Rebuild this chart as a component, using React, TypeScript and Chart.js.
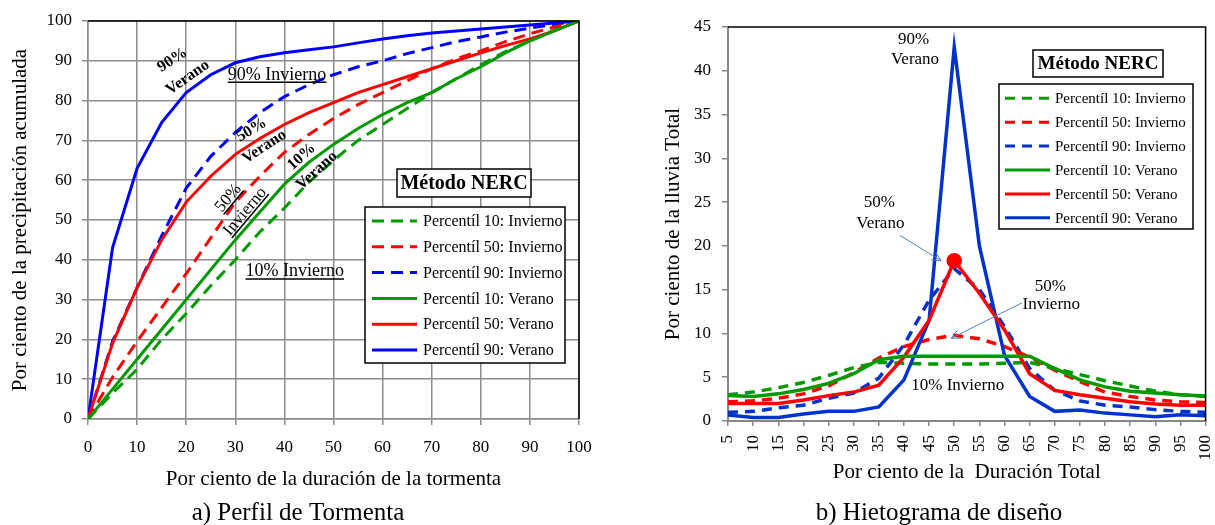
import React, { useEffect, useRef } from "react";
import { Chart, registerables } from "chart.js";

Chart.register(...registerables);

const SERIF = '"Liberation Serif", "Times New Roman", serif';

// ---------- Panel a) Perfil de Tormenta (cumulative) ----------
const profileX = [0, 5, 10, 15, 20, 25, 30, 35, 40, 45, 50, 55, 60, 65, 70, 75, 80, 85, 90, 95, 100];
const profP10Inv = [0, 6.5, 12.5, 20, 26.5, 33.5, 40, 47, 53, 59.5, 65, 70, 74, 78, 82, 85.5, 89, 92.3, 95, 97.7, 100];
const profP50Inv = [0, 10.5, 19.5, 28, 36.5, 45.5, 54.5, 61, 67, 71.5, 75.5, 79, 82, 85, 88, 90.5, 92.5, 94.8, 96.8, 98.5, 100];
const profP90Inv = [0, 19.5, 33, 46, 58, 66, 72, 77, 81, 84, 86.5, 88.5, 90, 91.8, 93.3, 94.8, 96, 97.2, 98.2, 99.2, 100];
const profP10Ver = [0, 7.5, 15, 22.5, 30, 37.5, 45, 52, 59, 64.5, 69, 73, 76.5, 79.5, 82, 85.5, 88.5, 92, 95, 97.5, 100];
const profP50Ver = [0, 19, 33, 45, 54.5, 61, 66.5, 70.5, 74, 77, 79.5, 82, 84, 86, 88, 90, 92, 93.8, 95.5, 97.5, 100];
const profP90Ver = [0, 43, 63, 74.5, 82, 86.5, 89.5, 91, 92, 92.8, 93.5, 94.5, 95.5, 96.3, 97, 97.5, 98, 98.5, 99, 99.5, 100];

// ---------- Panel b) Hietograma de diseño ----------
const hietoX = [5, 10, 15, 20, 25, 30, 35, 40, 45, 50, 55, 60, 65, 70, 75, 80, 85, 90, 95, 100];
const hietP10Inv = [3.0, 3.3, 3.8, 4.4, 5.2, 6.1, 6.7, 6.6, 6.5, 6.5, 6.5, 6.6, 6.7, 6.0, 5.3, 4.6, 4.0, 3.4, 3.0, 2.8];
const hietP50Inv = [2.2, 2.3, 2.6, 3.1, 4.0, 5.5, 7.2, 8.5, 9.3, 9.8, 9.4, 8.5, 7.3, 5.8, 4.5, 3.3, 2.8, 2.4, 2.2, 2.1];
const hietP90Inv = [1.0, 1.1, 1.5, 1.8, 2.6, 3.2, 4.9, 8.7, 13.8, 17.4, 15.0, 10.8, 6.0, 3.5, 2.3, 1.8, 1.6, 1.3, 1.1, 1.0];
const hietP10Ver = [2.9, 2.8, 3.1, 3.6, 4.3, 5.4, 7.0, 7.4, 7.4, 7.4, 7.4, 7.4, 7.4, 6.0, 4.7, 3.9, 3.4, 3.2, 3.0, 2.85];
const hietP50Ver = [2.0, 2.0, 2.0, 2.4, 2.9, 3.3, 4.1, 7.3, 11.5, 18.3, 14.6, 10.4, 5.4, 3.5, 3.0, 2.6, 2.2, 1.95, 1.8, 1.8];
const hietP90Ver = [0.7, 0.4, 0.4, 0.8, 1.1, 1.1, 1.6, 4.7, 11.5, 42.7, 20.0, 7.5, 2.8, 1.1, 1.25, 0.9, 0.7, 0.5, 0.7, 0.6];

const seriesLabels = [
  "Percentíl 10: Invierno",
  "Percentíl 50: Invierno",
  "Percentíl 90: Invierno",
  "Percentíl 10: Verano",
  "Percentíl 50: Verano",
  "Percentíl 90: Verano",
];

// annotation texts (positions in data units)
const profNotes = [
  { t: "90%", x: 17.2, y: 90.2, rot: -33, size: 16, bold: true },
  { t: "Verano", x: 20.3, y: 85.8, rot: -35, size: 16, bold: true },
  { t: "90% Invierno", x: 38.5, y: 86.4, rot: 0, size: 18, underline: true },
  { t: "50%", x: 33.3, y: 72.6, rot: -31, size: 16, bold: true },
  { t: "Verano", x: 35.9, y: 68.4, rot: -33, size: 16, bold: true },
  { t: "10%", x: 43.5, y: 65.9, rot: -42, size: 16, bold: true },
  { t: "Verano", x: 46.6, y: 62.4, rot: -42, size: 16, bold: true },
  { t: "50%", x: 28.6, y: 55.5, rot: -50, size: 17, underline: true },
  { t: "Invierno", x: 32.0, y: 52.1, rot: -50, size: 17, underline: true },
  { t: "10% Invierno", x: 42.1, y: 37.0, rot: 0, size: 18, underline: true },
];
const hietNotes = [
  { t: "90%", x: 41.9, y: 43.6 },
  { t: "Verano", x: 42.2, y: 41.3 },
  { t: "50%", x: 35.1, y: 24.9 },
  { t: "Verano", x: 35.3, y: 22.6 },
  { t: "50%", x: 69.1, y: 15.4 },
  { t: "Invierno", x: 69.3, y: 13.25 },
  { t: "10% Invierno", x: 50.7, y: 4.0 },
];
const hietArrows = [
  { x1: 39.2, y1: 21.2, x2: 47.4, y2: 18.3 },
  { x1: 63.5, y1: 13.5, x2: 49.4, y2: 9.45 },
];

const GREEN = "#009900";
const RED = "#ff0000";
const BLUE_A = "#0000ff";
const BLUE_B = "#0033cc";
const GRID = "#8c8c8c";

function pts(xs: number[], ys: number[]) {
  return xs.map((x, i) => ({ x, y: ys[i] }));
}

function ds(label: string, xs: number[], ys: number[], color: string, dashed: boolean, dash: number[], width: number, extra: any = {}) {
  return {
    label,
    data: pts(xs, ys),
    borderColor: color,
    backgroundColor: color,
    borderWidth: width,
    borderDash: dashed ? dash : [],
    pointRadius: 0,
    tension: 0,
    fill: false,
    order: dashed ? 2 : 1,
    ...extra,
  };
}

function drawText(ctx: CanvasRenderingContext2D, text: string, x: number, y: number, o: any) {
  ctx.save();
  ctx.translate(x, y);
  ctx.rotate(((o.rot || 0) * Math.PI) / 180);
  ctx.font = `${o.bold ? "bold " : ""}${o.size}px ${SERIF}`;
  ctx.fillStyle = "#000";
  ctx.textAlign = o.align || "center";
  ctx.textBaseline = "middle";
  ctx.fillText(text, 0, 0);
  if (o.underline) {
    const w = ctx.measureText(text).width;
    ctx.strokeStyle = "#000";
    ctx.lineWidth = 1.5;
    ctx.beginPath();
    ctx.moveTo(-w / 2, o.size * 0.4);
    ctx.lineTo(w / 2, o.size * 0.4);
    ctx.stroke();
  }
  ctx.restore();
}

function drawLegend(ctx: CanvasRenderingContext2D, chart: any, L: any) {
  ctx.save();
  // title box
  ctx.fillStyle = "#fff";
  ctx.fillRect(L.tx1, L.ty1, L.tx2 - L.tx1, L.ty2 - L.ty1);
  ctx.strokeStyle = "#000";
  ctx.lineWidth = 1.5;
  ctx.strokeRect(L.tx1, L.ty1, L.tx2 - L.tx1, L.ty2 - L.ty1);
  drawText(ctx, "Método NERC", (L.tx1 + L.tx2) / 2, (L.ty1 + L.ty2) / 2 + 1, { size: L.titleSize, bold: true });
  // legend box
  ctx.fillStyle = "#fff";
  ctx.fillRect(L.x1, L.y1, L.x2 - L.x1, L.y2 - L.y1);
  ctx.strokeRect(L.x1, L.y1, L.x2 - L.x1, L.y2 - L.y1);
  chart.data.datasets.forEach((d: any, i: number) => {
    const y = L.row0 + i * L.rowH;
    ctx.save();
    ctx.strokeStyle = d.borderColor;
    ctx.lineWidth = 3;
    ctx.setLineDash(d.borderDash || []);
    ctx.beginPath();
    ctx.moveTo(L.sx1, y);
    ctx.lineTo(L.sx2, y);
    ctx.stroke();
    ctx.restore();
    drawText(ctx, d.label, L.textX, y + 1, { size: L.size, align: "left" });
  });
  ctx.restore();
}

function arrow(ctx: CanvasRenderingContext2D, x1: number, y1: number, x2: number, y2: number) {
  ctx.save();
  ctx.strokeStyle = "#4f81bd";
  ctx.lineWidth = 1;
  ctx.beginPath();
  ctx.moveTo(x1, y1);
  ctx.lineTo(x2, y2);
  ctx.stroke();
  const a = Math.atan2(y2 - y1, x2 - x1);
  const len = 10;
  const s = 0.45;
  ctx.beginPath();
  ctx.moveTo(x2 - len * Math.cos(a - s), y2 - len * Math.sin(a - s));
  ctx.lineTo(x2, y2);
  ctx.lineTo(x2 - len * Math.cos(a + s), y2 - len * Math.sin(a + s));
  ctx.stroke();
  ctx.restore();
}

function frame(ctx: CanvasRenderingContext2D, area: any) {
  ctx.save();
  ctx.strokeStyle = "#000";
  ctx.lineWidth = 1.5;
  ctx.beginPath();
  ctx.moveTo(area.left, area.top);
  ctx.lineTo(area.right, area.top);
  ctx.lineTo(area.right, area.bottom);
  ctx.stroke();
  ctx.restore();
}

function makeProfile(): any {
  const dash = [12, 7];
  return {
    type: "line",
    data: {
      datasets: [
        ds(seriesLabels[0], profileX, profP10Inv, GREEN, true, dash, 3),
        ds(seriesLabels[1], profileX, profP50Inv, RED, true, dash, 3),
        ds(seriesLabels[2], profileX, profP90Inv, BLUE_A, true, dash, 3),
        ds(seriesLabels[3], profileX, profP10Ver, GREEN, false, dash, 3),
        ds(seriesLabels[4], profileX, profP50Ver, RED, false, dash, 3),
        ds(seriesLabels[5], profileX, profP90Ver, BLUE_A, false, dash, 3),
      ],
    },
    options: {
      responsive: false,
      animation: false,
      layout: { padding: { left: 0, top: 21, right: 41, bottom: 0 } },
      plugins: { legend: { display: false }, tooltip: { enabled: false } },
      scales: {
        x: {
          type: "linear",
          min: 0,
          max: 100,
          ticks: { stepSize: 10, color: "#000", font: { family: SERIF, size: 17 }, padding: 12, maxRotation: 0 },
          grid: { color: GRID, lineWidth: 1.5, tickLength: 6 },
          border: { color: GRID, width: 1.5 },
          title: {
            display: true,
            text: "Por ciento de la duración de la tormenta",
            color: "#000",
            font: { family: SERIF, size: 21 },
            padding: { top: 0, bottom: 33 },
          },
          afterFit: (s: any) => {
            s.height = 106;
          },
        },
        y: {
          type: "linear",
          min: 0,
          max: 100,
          ticks: { stepSize: 10, color: "#000", font: { family: SERIF, size: 17 }, padding: 10 },
          grid: { color: GRID, lineWidth: 1.5, tickLength: 6 },
          border: { color: GRID, width: 1.5 },
          title: {
            display: true,
            text: "Por ciento de la precipitación acumulada",
            color: "#000",
            font: { family: SERIF, size: 21 },
            padding: { top: 8, bottom: 0 },
          },
          afterFit: (s: any) => {
            s.width = 88;
          },
        },
      },
    },
    plugins: [
      {
        id: "profDeco",
        afterDatasetsDraw(chart: any) {
          const ctx = chart.ctx;
          const a = chart.chartArea;
          const xs = chart.scales.x;
          const ys = chart.scales.y;
          frame(ctx, a);
          profNotes.forEach((n) => drawText(ctx, n.t, xs.getPixelForValue(n.x), ys.getPixelForValue(n.y), n));
          drawLegend(ctx, chart, {
            tx1: a.right - 182, tx2: a.right - 48, ty1: a.top + 148, ty2: a.top + 176, titleSize: 20,
            x1: a.right - 214, x2: a.right - 14, y1: a.top + 186, y2: a.top + 342,
            row0: a.top + 200, rowH: 25.8, sx1: a.right - 207, sx2: a.right - 162, textX: a.right - 156, size: 16,
          });
        },
        afterDraw(chart: any) {
          drawText(chart.ctx, "a) Perfil de Tormenta", 298, 513, { size: 25 });
        },
      },
    ],
  };
}

function makeHyeto(): any {
  const dash = [10, 7];
  const peak = hietP50Ver.indexOf(Math.max(...hietP50Ver));
  return {
    type: "line",
    data: {
      datasets: [
        ds(seriesLabels[0], hietoX, hietP10Inv, GREEN, true, dash, 3.5),
        ds(seriesLabels[1], hietoX, hietP50Inv, RED, true, dash, 3.5),
        ds(seriesLabels[2], hietoX, hietP90Inv, BLUE_B, true, dash, 3.5),
        ds(seriesLabels[3], hietoX, hietP10Ver, GREEN, false, dash, 3.5),
        ds(seriesLabels[4], hietoX, hietP50Ver, RED, false, dash, 3.5, {
          pointRadius: (c: any) => (c.dataIndex === peak ? 6 : 0),
          pointBackgroundColor: RED,
          pointBorderColor: RED,
        }),
        ds(seriesLabels[5], hietoX, hietP90Ver, BLUE_B, false, dash, 3.5),
      ],
    },
    options: {
      responsive: false,
      animation: false,
      layout: { padding: { left: 0, top: 27, right: 25, bottom: 0 } },
      plugins: { legend: { display: false }, tooltip: { enabled: false } },
      scales: {
        x: {
          type: "linear",
          min: 5,
          max: 100,
          afterBuildTicks: (s: any) => {
            s.ticks = hietoX.map((v) => ({ value: v }));
          },
          ticks: { autoSkip: false, minRotation: 90, maxRotation: 90, color: "#000", font: { family: SERIF, size: 17 }, padding: 9 },
          grid: { drawOnChartArea: false, tickLength: 5, tickColor: "#868686", lineWidth: 1.5 },
          border: { color: "#868686", width: 2 },
          title: {
            display: true,
            text: "Por ciento de la  Duración Total",
            color: "#000",
            font: { family: SERIF, size: 21 },
            padding: { top: 0, bottom: 40 },
          },
          afterFit: (s: any) => {
            s.height = 104;
          },
        },
        y: {
          type: "linear",
          min: 0,
          max: 45,
          ticks: { stepSize: 5, color: "#000", font: { family: SERIF, size: 17 }, padding: 11 },
          grid: { drawOnChartArea: false, tickLength: 6, tickColor: "#868686", lineWidth: 1.5 },
          border: { color: "#868686", width: 2 },
          title: {
            display: true,
            text: "Por ciento de la lluvia Total",
            color: "#000",
            font: { family: SERIF, size: 21 },
            padding: { top: 51, bottom: 0 },
          },
          afterFit: (s: any) => {
            s.width = 118;
          },
        },
      },
    },
    plugins: [
      {
        id: "hietDeco",
        afterDatasetsDraw(chart: any) {
          const ctx = chart.ctx;
          const a = chart.chartArea;
          const xs = chart.scales.x;
          const ys = chart.scales.y;
          frame(ctx, a);
          hietNotes.forEach((n) => drawText(ctx, n.t, xs.getPixelForValue(n.x), ys.getPixelForValue(n.y), { size: 17 }));
          hietArrows.forEach((r) =>
            arrow(ctx, xs.getPixelForValue(r.x1), ys.getPixelForValue(r.y1), xs.getPixelForValue(r.x2), ys.getPixelForValue(r.y2))
          );
          drawLegend(ctx, chart, {
            tx1: a.left + 305, tx2: a.left + 435, ty1: a.top + 23, ty2: a.top + 50, titleSize: 19,
            x1: a.left + 271, x2: a.left + 465, y1: a.top + 57, y2: a.top + 202,
            row0: a.top + 71.3, rowH: 23.9, sx1: a.left + 277, sx2: a.left + 322, textX: a.left + 327, size: 15,
          });
        },
        afterDraw(chart: any) {
          drawText(chart.ctx, "b) Hietograma de diseño", 329, 513, { size: 25 });
        },
      },
    ],
  };
}

function ChartCanvas({ x, w, make }: { x: number; w: number; make: () => any }) {
  const ref = useRef<HTMLCanvasElement>(null);
  useEffect(() => {
    const chart = new Chart(ref.current as HTMLCanvasElement, make());
    return () => chart.destroy();
  }, []);
  return (
    <canvas
      ref={ref}
      width={w}
      height={525}
      style={{ position: "absolute", left: x, top: 0, width: w, height: 525 }}
    />
  );
}

export default function App() {
  return (
    <div style={{ position: "fixed", left: 0, top: 0, width: 1215, height: 525, overflow: "hidden", background: "#fff" }}>
      <ChartCanvas x={0} w={620} make={makeProfile} />
      <ChartCanvas x={610} w={625} make={makeHyeto} />
    </div>
  );
}
